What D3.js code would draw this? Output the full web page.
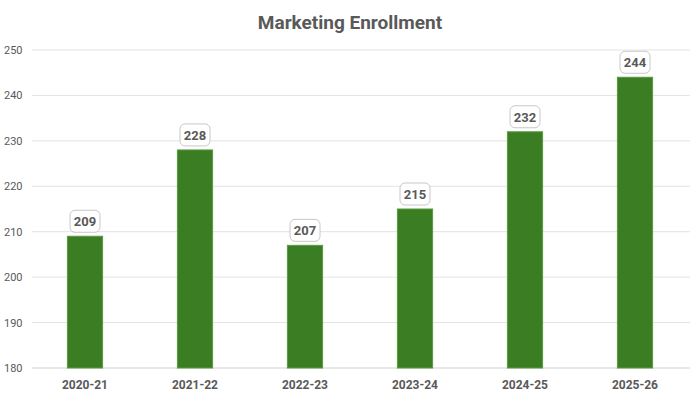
<!DOCTYPE html><html><head><meta charset="utf-8"><script src="https://cdn.jsdelivr.net/npm/d3@7"></script>
<style>body{margin:0;background:#fff}</style></head><body><svg id="c" width="700" height="400"></svg>
<script>
const categories=["2020-21","2021-22","2022-23","2023-24","2024-25","2025-26"];
const values=[209,228,207,215,232,244];
const yTicks=[180,190,200,210,220,230,240,250];
const svg=d3.select("#c"),font="Roboto, 'Open Sans', sans-serif";
const x=d3.scaleBand().domain(categories).range([30,690]).paddingInner(0.68).paddingOuter(0.34);
const y=d3.scaleLinear().domain([180,250]).range([368,50]);
svg.append("text").attr("x",350).attr("y",29).attr("text-anchor","middle").attr("font-family",font).attr("font-size",19).attr("font-weight","bold").attr("fill","#595959").text("Marketing Enrollment");
svg.selectAll(".g").data(yTicks).join("line").attr("x1",32).attr("x2",690).attr("y1",d=>y(d)).attr("y2",d=>y(d)).attr("stroke",d=>d===180?"#d0d0d0":"#e3e3e3");
svg.selectAll(".yl").data(yTicks).join("text").attr("x",4).attr("y",d=>y(d)+4).attr("font-family",font).attr("font-size",11).attr("fill","#595959").text(d=>d);
svg.selectAll(".b").data(values).join("rect").attr("x",(d,i)=>x(categories[i])).attr("width",x.bandwidth()).attr("y",d=>y(d)).attr("height",d=>y(180)-y(d)).attr("fill","#3b7d23").attr("stroke","#5a9a40").attr("stroke-width",1);
svg.selectAll(".xl").data(categories).join("text").attr("x",d=>x(d)+x.bandwidth()/2).attr("y",389).attr("text-anchor","middle").attr("font-family",font).attr("font-size",12).attr("font-weight","bold").attr("fill","#595959").text(d=>d);
const lab=svg.selectAll(".lab").data(values).join("g").attr("transform",(d,i)=>`translate(${x(categories[i])+x.bandwidth()/2},${y(d)-15})`);
lab.append("rect").attr("x",-15).attr("y",-11).attr("width",30).attr("height",22).attr("rx",5).attr("fill","#fff").attr("stroke","#c8c8c8");
lab.append("text").attr("y",5).attr("text-anchor","middle").attr("font-family",font).attr("font-size",13).attr("font-weight","bold").attr("fill","#595959").text(d=>d);
</script></body></html>
